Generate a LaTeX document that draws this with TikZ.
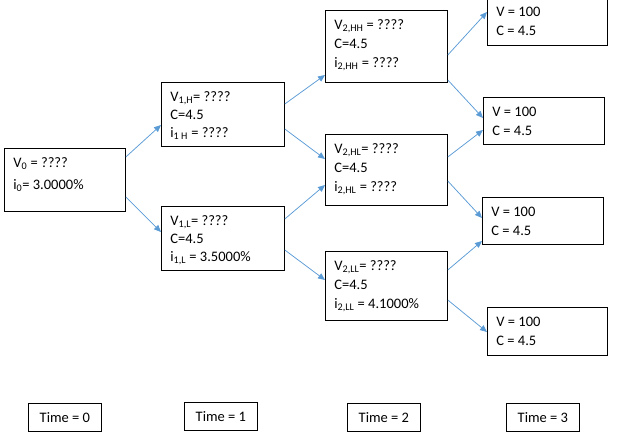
\documentclass[tikz,border=0pt]{standalone}
\usepackage{fontspec}
\setmainfont{Carlito}
\usepackage{xcolor}
\usepackage{tikz}
\usetikzlibrary{arrows.meta}
\definecolor{arrblue}{HTML}{5B9BD5}
\newcommand{\boxtext}[3]{\parbox[c][#2pt][t]{#1pt}{\strut #3}}
\tikzset{
	box/.style={rectangle, draw, line width=0.8pt, anchor=north west,
		inner xsep=9pt, inner ysep=6pt, font=\fontsize{14.5}{19}\selectfont},
	timebox/.style={rectangle, draw, line width=0.8pt, anchor=north west,
		minimum width=73pt, minimum height=28pt, inner sep=2pt,
		font=\fontsize{14.5}{19}\selectfont},
	arr/.style={-{Triangle[length=7pt, width=6pt]}, draw=arrblue, line width=0.75pt},
}

\begin{document}
\begin{tikzpicture}[x=1pt, y=-1pt]
	\useasboundingbox (0,0) rectangle (633,444);
	\node[box] (v0) at (4,148) {\boxtext{103}{51}{V\textsubscript{0} = ????\\[3pt] i\textsubscript{0}= 3.0000\%}};
	\node[box] (v1h) at (161,82) {\boxtext{105}{52}{V\textsubscript{1,H}= ????\\[-1pt] C=4.5\\[-1pt] i\textsubscript{1 H} = ????}};
	\node[box] (v1l) at (161,206) {\boxtext{105}{52}{V\textsubscript{1,L}= ????\\[-1pt] C=4.5\\[-1pt] i\textsubscript{1,L} = 3.5000\%}};
	\node[box] (v2hh) at (325,10) {\boxtext{104}{60}{V\textsubscript{2,HH} = ????\\ C=4.5\\ i\textsubscript{2,HH} = ????}};
	\node[box] (v2hl) at (325,134) {\boxtext{104}{59}{V\textsubscript{2,HL}= ????\\ C=4.5\\ i\textsubscript{2,HL} = ????}};
	\node[box] (v2ll) at (325,251) {\boxtext{104}{57}{V\textsubscript{2,LL}= ????\\ C=4.5\\ i\textsubscript{2,LL} = 4.1000\%}};
	\node[box] (v3a) at (487,-3) {\boxtext{102}{36}{V = 100\\ C = 4.5}};
	\node[box] (v3b) at (483,97) {\boxtext{103}{35}{V = 100\\ C = 4.5}};
	\node[box] (v3c) at (482,197) {\boxtext{103}{35}{V = 100\\ C = 4.5}};
	\node[box] (v3d) at (487,307) {\boxtext{102}{36}{V = 100\\ C = 4.5}};

	\node[timebox] (time0) at (28,403) {Time = 0};
	\node[timebox] (time1) at (184,402) {Time = 1};
	\node[timebox] (time2) at (347,403) {Time = 2};
	\node[timebox] (time3) at (506,403) {Time = 3};

	\draw[arr] ([yshift=-9pt]v0.north east) -- ([yshift=-43pt]v1h.north west);
	\draw[arr] ([yshift=-49pt]v0.north east) -- ([yshift=-26pt]v1l.north west);
	\draw[arr] ([yshift=-22pt]v1h.north east) -- ([yshift=-65pt]v2hh.north west);
	\draw[arr] ([yshift=-47pt]v1h.north east) -- ([yshift=-25pt]v2hl.north west);
	\draw[arr] ([yshift=-13pt]v1l.north east) -- ([yshift=-51pt]v2hl.north west);
	\draw[arr] ([yshift=-44pt]v1l.north east) -- ([yshift=-29pt]v2ll.north west);
	\draw[arr] ([yshift=-45pt]v2hh.north east) -- ([yshift=-15pt]v3a.north west);
	\draw[arr] ([yshift=-70pt]v2hh.north east) -- ([yshift=-21pt]v3b.north west);
	\draw[arr] ([yshift=-23pt]v2hl.north east) -- ([yshift=-33pt]v3b.north west);
	\draw[arr] ([yshift=-47pt]v2hl.north east) -- ([yshift=-21pt]v3c.north west);
	\draw[arr] ([yshift=-19pt]v2ll.north east) -- ([yshift=-44pt]v3c.north west);
	\draw[arr] ([yshift=-49pt]v2ll.north east) -- ([yshift=-25pt]v3d.north west);
\end{tikzpicture}
\end{document}
